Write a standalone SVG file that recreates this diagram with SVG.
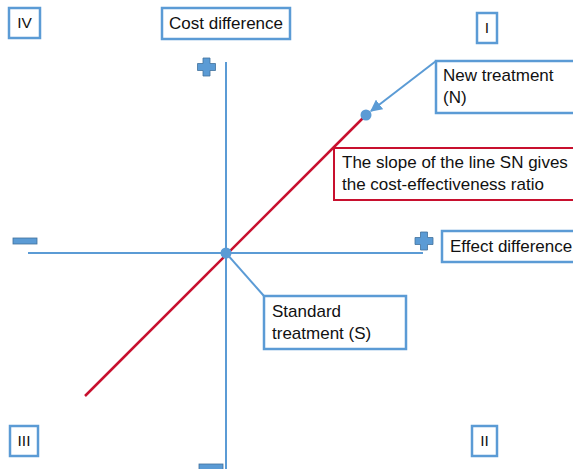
<svg xmlns="http://www.w3.org/2000/svg" width="573" height="469" viewBox="0 0 573 469">
<defs>
<style>
.box{fill:#fff;stroke:#5B9BD5;stroke-width:2.5}
.rbox{fill:#fff;stroke:#C8102E;stroke-width:2}
.t{font-family:"Liberation Sans",Arial,sans-serif;font-size:17px;fill:#111}
.q{font-size:15.5px}
.ax{stroke:#5B9BD5;stroke-width:2;fill:none}
.sign{fill:#5B9BD5;stroke:#41719C;stroke-width:0.8}
</style>
<marker id="ah" viewBox="0 0 10 10" refX="9" refY="5" markerWidth="6" markerHeight="6" orient="auto">
<path d="M0,0 L10,5 L0,10 z" fill="#5B9BD5"/>
</marker>
</defs>
<rect width="573" height="469" fill="#fff"/>
<g id="connectors">
<line class="ax" x1="226" y1="62" x2="226" y2="469"/>
<line class="ax" x1="28" y1="253" x2="423" y2="253"/>
<line x1="85" y1="396" x2="366" y2="115" stroke="#C8102E" stroke-width="2.5"/>
<line class="ax" x1="436" y1="61" x2="371" y2="111" marker-end="url(#ah)"/>
<line class="ax" x1="226" y1="253" x2="264" y2="296"/>
</g>
<g id="signs">
<path class="sign" d="M203,58 h7 v5.5 h5.5 v7 h-5.5 v5.5 h-7 v-5.5 h-5.5 v-7 h5.5 z"/>
<path class="sign" d="M420.5,232 h7 v5.5 h5.5 v7 h-5.5 v5.5 h-7 v-5.5 h-5.5 v-7 h5.5 z"/>
<rect class="sign" x="13" y="238" width="24" height="6"/>
<rect class="sign" x="199" y="464" width="24" height="6"/>
</g>
<g id="pointS"><circle cx="226" cy="253" r="5.5" fill="#5B9BD5"/></g>
<g id="pointN"><circle cx="366" cy="115" r="5.5" fill="#5B9BD5"/></g>
<g id="q4"><rect class="box" x="9" y="8" width="31" height="30"/><text class="t q" x="24.5" y="28" text-anchor="middle">IV</text></g>
<g id="q1"><rect class="box" x="477" y="13" width="20" height="30"/><text class="t q" x="487" y="33" text-anchor="middle">I</text></g>
<g id="q3"><rect class="box" x="10" y="426" width="28" height="30"/><text class="t q" x="24" y="446" text-anchor="middle">III</text></g>
<g id="q2"><rect class="box" x="472" y="426" width="25" height="30"/><text class="t q" x="484.5" y="446" text-anchor="middle">II</text></g>
<g id="costdiff"><rect class="box" x="162" y="8" width="128" height="31"/><text class="t" x="169" y="29">Cost difference</text></g>
<g id="effectdiff"><rect class="box" x="442" y="231" width="140" height="31"/><text class="t" x="450" y="252">Effect difference</text></g>
<g id="newtreat"><rect class="box" x="436" y="61" width="150" height="52"/><text class="t" x="443" y="81">New treatment</text><text class="t" x="443" y="103">(N)</text></g>
<g id="slope"><rect class="rbox" x="334" y="148" width="250" height="52"/><text class="t" x="342" y="168">The slope of the line SN gives</text><text class="t" x="342" y="190">the cost-effectiveness ratio</text></g>
<g id="standard"><rect class="box" x="264" y="296" width="142" height="53"/><text class="t" x="272" y="317">Standard</text><text class="t" x="272" y="339">treatment (S)</text></g>
</svg>
